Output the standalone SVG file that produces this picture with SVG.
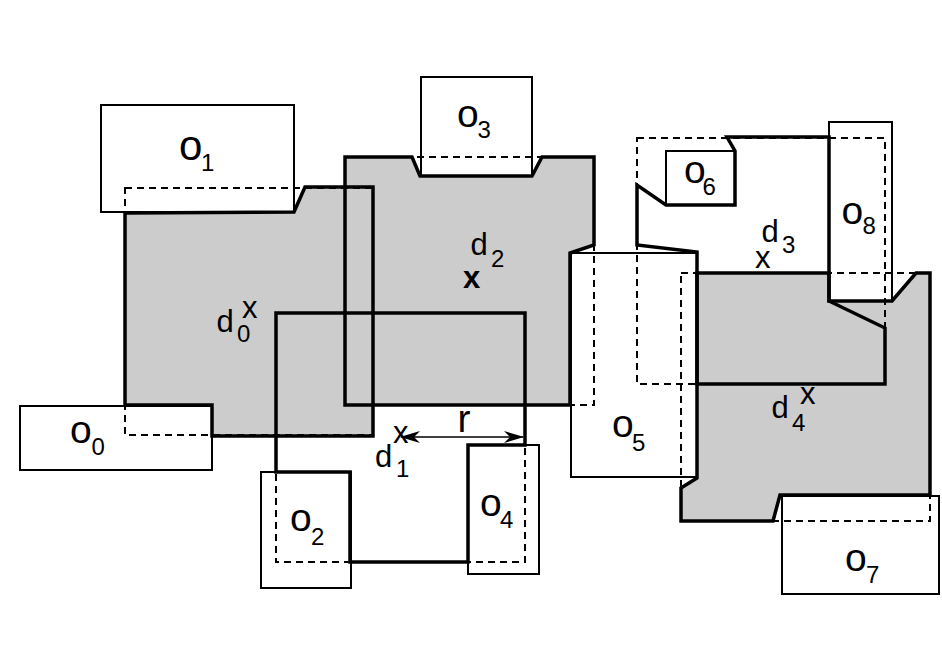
<svg xmlns="http://www.w3.org/2000/svg" width="942" height="667" viewBox="0 0 942 667">
<style>
.bg{fill:#ffffff}
.fill{fill:#cccccc;stroke:none}
.box{fill:#ffffff;stroke:#000;stroke-width:2}
.dash{fill:none;stroke:#000;stroke-width:2;stroke-dasharray:7,5}
.out{fill:none;stroke:#000;stroke-width:3.5;stroke-linejoin:miter}
.t{font-family:"Liberation Sans",Arial,sans-serif;fill:#000}
.o{font-size:39px}
.s{font-size:24px}
.d{font-size:31px}
</style>
<defs>
<marker id="ah" viewBox="0 0 20 12" refX="19" refY="6" markerWidth="20" markerHeight="12" markerUnits="userSpaceOnUse" orient="auto-start-reverse">
<path d="M0,0 L20,6 L0,12 L6,6 Z" fill="#000"/>
</marker>
</defs>
<rect class="bg" x="0" y="0" width="942" height="667"/>

<!-- gray region fills -->
<g id="fills">
<polygon class="fill" points="125,213 294,212 305,187 373,187 373,436 212,436 212,405 125,405"/>
<polygon class="fill" points="345,157 412,157 420,176 532,176 542,157 594,157 594,245 570,253 570,405 345,405"/>
<polygon class="fill" points="697,273 829,273 829,301 892,301 916,273 930,273 930,495 780,495 773,521 681,521 681,488 697,478"/>
</g>

<!-- obstacles -->
<g id="o0"><rect class="box" x="20" y="406" width="192" height="64"/><text class="t"><tspan class="o" x="70" y="443">o</tspan><tspan class="s" x="91.5" y="455">0</tspan></text></g>
<g id="o1"><rect class="box" x="101" y="105" width="193" height="107"/><text class="t"><tspan class="o" x="179" y="160" style="font-size:42px">o</tspan><tspan class="s" x="201" y="170.5">1</tspan></text></g>
<g id="o2"><rect class="box" x="261" y="472" width="90" height="116"/><text class="t"><tspan class="o" x="290" y="531">o</tspan><tspan class="s" x="311" y="545">2</tspan></text></g>
<g id="o3"><rect class="box" x="421" y="77" width="111" height="99"/><text class="t"><tspan class="o" x="457" y="126.5">o</tspan><tspan class="s" x="477.5" y="137.5">3</tspan></text></g>
<g id="o4"><rect class="box" x="468" y="445" width="71" height="129"/><text class="t"><tspan class="o" x="480" y="516">o</tspan><tspan class="s" x="500" y="528">4</tspan></text></g>
<g id="o5"><rect class="box" x="571" y="253" width="126" height="224"/><text class="t"><tspan class="o" x="612" y="437">o</tspan><tspan class="s" x="632" y="450.5">5</tspan></text></g>
<g id="o6"><rect class="box" x="666" y="151" width="69" height="54"/><text class="t"><tspan class="o" x="684" y="183">o</tspan><tspan class="s" x="702.5" y="195">6</tspan></text></g>
<g id="o7"><rect class="box" x="782" y="496" width="157" height="98"/><text class="t"><tspan class="o" x="845" y="570.5">o</tspan><tspan class="s" x="866" y="582.5">7</tspan></text></g>
<g id="o8"><rect class="box" x="829" y="122" width="63" height="179"/><text class="t"><tspan class="o" x="841.5" y="224">o</tspan><tspan class="s" x="862.5" y="234">8</tspan></text></g>

<!-- original (dashed) ranges -->
<g id="ranges">
<rect class="dash" x="125" y="188" width="248" height="247"/>
<rect class="dash" x="276" y="313" width="249" height="249"/>
<rect class="dash" x="345" y="157" width="249" height="248"/>
<rect class="dash" x="637" y="138" width="248" height="246"/>
<rect class="dash" x="681" y="273" width="249" height="248"/>
</g>

<!-- region outlines -->
<g id="d0"><polygon class="out" points="125,213 294,212 305,187 373,187 373,436 212,436 212,405 125,405"/>
<text class="t d"><tspan x="216.5" y="331.5">d</tspan><tspan class="s" x="237" y="341.5">0</tspan><tspan x="242" y="318">x</tspan></text></g>
<g id="d2"><polygon class="out" points="345,157 412,157 420,176 532,176 542,157 594,157 594,245 570,253 570,405 345,405"/>
<text class="t d"><tspan x="470.5" y="255">d</tspan><tspan class="s" x="491" y="266.5">2</tspan><tspan x="463" y="288" font-weight="bold">x</tspan></text></g>
<g id="d1"><polygon class="out" points="276,313 525,313 525,445 468,445 468,562 350,562 350,472 276,472"/>
<text class="t d"><tspan x="393" y="443">x</tspan><tspan x="375" y="466.5">d</tspan><tspan class="s" x="396" y="476.5">1</tspan></text></g>
<g id="d4"><polygon class="out" points="697,273 829,273 829,301 892,301 916,273 930,273 930,495 780,495 773,521 681,521 681,488 697,478"/>
<text class="t d"><tspan x="771.5" y="418">d</tspan><tspan class="s" x="792" y="430.5">4</tspan><tspan x="800" y="404">x</tspan></text></g>
<g id="d3"><polygon class="out" points="727,137 829,137 829,301 885,328 885,384 697,384 697,252 637,245 637,185 666,205 735,205 735,151"/>
<text class="t d"><tspan x="761.5" y="241.5">d</tspan><tspan class="s" x="782" y="253">3</tspan><tspan x="755" y="268">x</tspan></text></g>

<!-- connectors -->
<g id="connectors">
<line x1="401" y1="437" x2="523" y2="437" stroke="#000" stroke-width="1.5" marker-start="url(#ah)" marker-end="url(#ah)"/>
<text class="t o" x="457.5" y="431.5">r</text>
</g>
</svg>
